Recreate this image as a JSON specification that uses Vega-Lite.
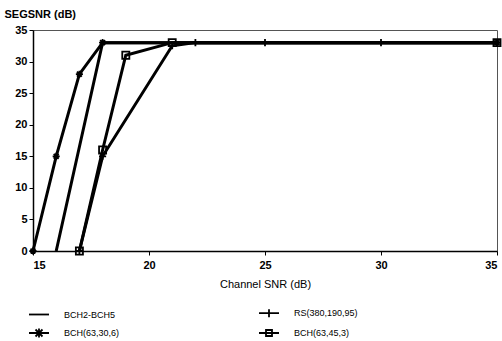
{
  "$schema": "https://vega.github.io/schema/vega-lite/v6.json",
  "width": 464,
  "height": 221,
  "autosize": {"type": "none"},
  "padding": {"left": 33, "top": 30, "right": 5, "bottom": 90},
  "background": "white",
  "config": {
    "font": "Liberation Sans",
    "view": {"stroke": "#555", "strokeWidth": 1}
  },
  "data": {
    "values": [
      {"s": "BCH2-BCH5", "x": 16, "y": 0},
      {"s": "BCH2-BCH5", "x": 18, "y": 33},
      {"s": "BCH2-BCH5", "x": 35, "y": 33},
      {"s": "BCH(63,30,6)", "x": 15, "y": 0},
      {"s": "BCH(63,30,6)", "x": 16, "y": 15},
      {"s": "BCH(63,30,6)", "x": 17, "y": 28},
      {"s": "BCH(63,30,6)", "x": 18, "y": 33},
      {"s": "BCH(63,30,6)", "x": 35, "y": 33},
      {"s": "BCH(63,45,3)", "x": 17, "y": 0},
      {"s": "BCH(63,45,3)", "x": 18, "y": 16},
      {"s": "BCH(63,45,3)", "x": 19, "y": 31},
      {"s": "BCH(63,45,3)", "x": 21, "y": 33},
      {"s": "BCH(63,45,3)", "x": 35, "y": 33},
      {"s": "RS(380,190,95)", "x": 17, "y": 0},
      {"s": "RS(380,190,95)", "x": 18, "y": 15},
      {"s": "RS(380,190,95)", "x": 21, "y": 32.5},
      {"s": "RS(380,190,95)", "x": 22, "y": 33},
      {"s": "RS(380,190,95)", "x": 25, "y": 33},
      {"s": "RS(380,190,95)", "x": 30, "y": 33},
      {"s": "RS(380,190,95)", "x": 35, "y": 33}
    ]
  },
  "encoding": {
    "x": {
      "field": "x", "type": "quantitative",
      "scale": {"domain": [15, 35], "nice": false, "zero": false},
      "axis": {
        "values": [15, 20, 25, 30, 35],
        "title": "Channel SNR (dB)",
        "titleFont": "Liberation Sans", "titleFontSize": 11, "titleFontWeight": "normal", "titleColor": "black",
        "titlePadding": 8,
        "labelFont": "Liberation Sans", "labelFontSize": 11, "labelFontWeight": "bold", "labelColor": "black",
        "domainColor": "black", "domainWidth": 1.5, "tickColor": "black", "tickSize": 4,
        "grid": false, "labelPadding": 4
      }
    },
    "y": {
      "field": "y", "type": "quantitative",
      "scale": {"domain": [0, 35], "nice": false},
      "axis": {
        "values": [0, 5, 10, 15, 20, 25, 30, 35],
        "title": "SEGSNR (dB)",
        "titleAngle": 0, "titleAlign": "left", "titleBaseline": "bottom",
        "titleX": -29, "titleY": -11,
        "titleFont": "Liberation Sans", "titleFontSize": 11, "titleFontWeight": "bold", "titleColor": "black",
        "labelFont": "Liberation Sans", "labelFontSize": 11, "labelFontWeight": "bold", "labelColor": "black",
        "domainColor": "black", "domainWidth": 1.5, "tickColor": "black", "tickSize": 4,
        "grid": false, "labelPadding": 2
      }
    }
  },
  "layer": [
    {
      "mark": {"type": "line", "strokeWidth": 3},
      "encoding": {
        "color": {
          "field": "s", "type": "nominal",
          "scale": {
            "domain": ["BCH2-BCH5", "BCH(63,30,6)", "RS(380,190,95)", "BCH(63,45,3)"],
            "range": ["black", "black", "black", "black"]
          },
          "legend": {
            "title": null,
            "orient": "none",
            "legendX": -5,
            "legendY": 272,
            "columns": 2,
            "columnPadding": 135,
            "rowPadding": 1,
            "symbolSize": 400,
            "symbolStrokeWidth": 2,
            "symbolStrokeColor": "black",
            "symbolFillColor": "transparent",
            "labelFont": "Liberation Sans",
            "labelFontSize": 9,
            "labelColor": "black",
            "labelOffset": 14,
            "encode": {
              "symbols": {
                "update": {
                  "shape": {"signal": "datum.value == 'BCH2-BCH5' ? 'M-1,0L1,0' : datum.value == 'RS(380,190,95)' ? 'M-1,0L1,0M0,-0.4L0,0.4' : datum.value == 'BCH(63,30,6)' ? 'M-1,0L1,0M-0.35,-0.35L0.35,0.35M-0.35,0.35L0.35,-0.35M0,-0.45L0,0.45' : 'M-1,0L1,0M-0.3,-0.3L0.3,-0.3L0.3,0.3L-0.3,0.3Z'"},
                  "stroke": {"value": "black"},
                  "fill": {"value": "transparent"},
                  "strokeWidth": {"value": 1.8}
                }
              }
            }
          }
        }
      }
    },
    {
      "transform": [{"filter": "datum.s != 'BCH2-BCH5'"}],
      "mark": {"type": "point", "filled": false, "color": "black", "strokeWidth": 1.8, "size": 50, "opacity": 1},
      "encoding": {
        "shape": {
          "field": "s", "type": "nominal",
          "scale": {
            "domain": ["RS(380,190,95)", "BCH(63,30,6)", "BCH(63,45,3)"],
            "range": [
              "M-1,0L1,0M0,-1L0,1",
              "M-1,0L1,0M-0.7,-0.7L0.7,0.7M-0.7,0.7L0.7,-0.7M0,-1L0,1",
              "square"
            ]
          },
          "legend": null
        }
      }
    }
  ]
}
